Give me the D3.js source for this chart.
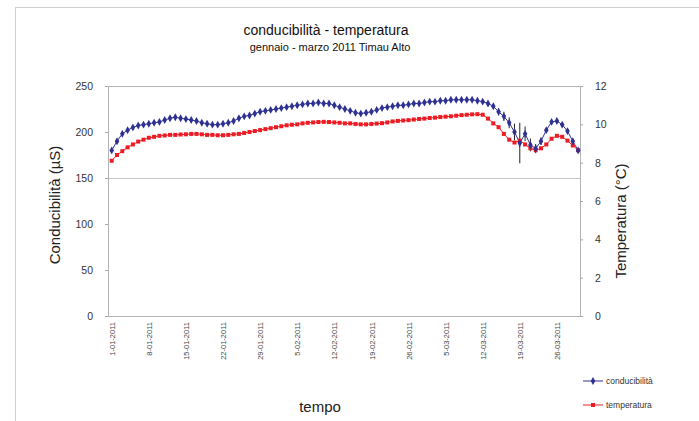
<!DOCTYPE html>
<html><head><meta charset="utf-8">
<script src="https://cdn.jsdelivr.net/npm/d3@7"></script>
<style>
html,body{margin:0;padding:0;background:#fff;}
svg{display:block;font-family:"Liberation Sans",Arial,sans-serif;}
</style></head>
<body><svg id="c" width="699" height="421"></svg>
<script>
// ---- data ----
const startDate = "2011-01-01";
const tickLabels = ["1-01-2011","8-01-2011","15-01-2011","22-01-2011","29-01-2011","5-02-2011","12-02-2011","19-02-2011","26-02-2011","5-03-2011","12-03-2011","19-03-2011","26-03-2011"];
const conducibilita = [180,190,198,202,205,207,208,209,210,211,213,215,216,215,214,213,212,210,209,208,208,209,210,212,215,217,218,220,222,223,224,225,226,227,228,229,230,231,231,232,231,231,229,227,225,223,221,220,221,222,224,226,227,228,229,229,230,231,231,232,233,233,234,234,235,235,235,235,235,234,233,231,228,222,217,210,200,188,198,186,182,190,202,211,212,208,201,190,180];
const conducibilitaErr = [0,0,0,0,0,0,0,0,0,0,0,0,0,0,0,0,0,0,0,0,0,0,0,0,0,0,0,0,0,0,0,0,0,0,0,0,0,0,0,0,0,0,0,0,0,0,0,0,0,0,0,0,0,0,0,0,0,0,0,0,0,0,0,0,0,0,0,0,0,0,0,0,0,4,5,6,9,22,8,7,5,4,0,0,0,0,0,0,0];
const temperatura = [8.1,8.4,8.6,8.8,8.95,9.1,9.2,9.3,9.35,9.4,9.42,9.45,9.45,9.47,9.48,9.5,9.5,9.48,9.45,9.45,9.43,9.43,9.45,9.48,9.5,9.55,9.6,9.65,9.7,9.75,9.8,9.85,9.9,9.95,9.98,10.0,10.05,10.08,10.1,10.12,10.13,10.12,10.1,10.08,10.05,10.05,10.02,10.0,10.0,10.02,10.04,10.06,10.1,10.15,10.18,10.2,10.22,10.25,10.28,10.3,10.33,10.35,10.38,10.4,10.42,10.45,10.48,10.5,10.52,10.53,10.5,10.3,10.05,9.85,9.5,9.2,9.05,9.15,8.95,8.75,8.65,8.75,8.95,9.25,9.4,9.35,9.15,8.9,8.65];
const leftTicks = [0,50,100,150,200,250];
const rightTicks = [0,2,4,6,8,10,12];
const seriesNames = ["conducibilità","temperatura"];
const colors = {cond:"#2e3192", temp:"#ed1c24"};

// ---- layout ----
const svg = d3.select("#c");
const L=108, R=580, T=86, B=316;
const day = 86400000;
const t0 = Date.parse(startDate+"T00:00:00Z");
const dates = conducibilita.map((_, i) => new Date(t0 + i*day));
const parseTick = d3.utcParse("%d-%m-%Y");
const tickDates = tickLabels.map(s => parseTick(s));

const x = d3.scaleUtc().domain([new Date(t0 - 0.7*day), new Date(t0 + 88.36*day)]).range([L, R]);
const yL = d3.scaleLinear().domain([0,250]).range([B, T]);
const yR = d3.scaleLinear().domain([0,12]).range([B, T]);

// outer frame
svg.append("rect").attr("x",15.5).attr("y",7.5).attr("width",690).attr("height",420)
  .attr("fill","#fff").attr("stroke","#cfcfcf");

// gridline at 150
svg.append("g").selectAll("line").data([150]).join("line")
  .attr("x1",L).attr("x2",R).attr("y1",d=>Math.round(yL(d))+0.5).attr("y2",d=>Math.round(yL(d))+0.5)
  .attr("stroke","#c4c4c4");

// plot frame
svg.append("rect").attr("x",L+0.5).attr("y",T+0.5).attr("width",R-L).attr("height",B-T)
  .attr("fill","none").attr("stroke","#b5b5b5");

// axes
const axL = svg.append("g").attr("transform",`translate(${L},0)`)
  .call(d3.axisLeft(yL).tickValues(leftTicks).tickSize(3).tickPadding(8));
const axR = svg.append("g").attr("transform",`translate(${R},0)`)
  .call(d3.axisRight(yR).tickValues(rightTicks).tickSize(3).tickPadding(12));
[axL,axR].forEach(a=>{
  a.select(".domain").remove();
  a.selectAll("line").attr("stroke","#aaa");
  a.selectAll("text").attr("font-size",10.5).attr("fill","#333").attr("font-family","Liberation Sans, Arial, sans-serif");
});
axL.selectAll("text").attr("dx",-4);

const fmt = d3.utcFormat("%-d-%m-%Y");
const axX = svg.append("g").attr("transform",`translate(0,${B})`)
  .call(d3.axisBottom(x).tickValues(tickDates).tickFormat(fmt).tickSize(0));
axX.select(".domain").remove();
axX.selectAll("text")
  .attr("font-size",7.5).attr("fill","#444").attr("font-family","Liberation Sans, Arial, sans-serif")
  .attr("transform","rotate(-90)").attr("text-anchor","end")
  .attr("x",-6).attr("y",0).attr("dy","0.35em");

// series
const condData = dates.map((d,i)=>({d, v:conducibilita[i], e:conducibilitaErr[i]}));
const tempData = dates.map((d,i)=>({d, v:temperatura[i]}));

svg.append("path").datum(tempData)
  .attr("d", d3.line().x(p=>x(p.d)).y(p=>yR(p.v)))
  .attr("fill","none").attr("stroke",colors.temp).attr("stroke-width",1);
svg.append("path").datum(condData)
  .attr("d", d3.line().x(p=>x(p.d)).y(p=>yL(p.v)))
  .attr("fill","none").attr("stroke",colors.cond).attr("stroke-width",1);

// error bars
svg.append("g").selectAll("line").data(condData.filter(p=>p.e>0)).join("line")
  .attr("x1",p=>x(p.d)).attr("x2",p=>x(p.d))
  .attr("y1",p=>yL(p.v+p.e)).attr("y2",p=>yL(p.v-p.e))
  .attr("stroke","#222").attr("stroke-width",1);

svg.append("g").selectAll("rect").data(tempData).join("rect")
  .attr("x",p=>x(p.d)-2).attr("y",p=>yR(p.v)-2).attr("width",4).attr("height",4)
  .attr("fill",colors.temp);
const diamond = d3.symbol().type(d3.symbolDiamond).size(18);
svg.append("g").selectAll("path").data(condData).join("path")
  .attr("d",diamond).attr("transform",p=>`translate(${x(p.d)},${yL(p.v)})`)
  .attr("fill",colors.cond);

// titles
svg.append("text").attr("x",326).attr("y",35).attr("text-anchor","middle")
  .attr("font-size",14).attr("fill","#111").text("conducibilità - temperatura");
svg.append("text").attr("x",330).attr("y",51).attr("text-anchor","middle")
  .attr("font-size",11).attr("fill","#111").text("gennaio - marzo 2011 Timau Alto");

svg.append("text").attr("transform",`translate(60,${(T+B)/2+4}) rotate(-90)`)
  .attr("text-anchor","middle").attr("font-size",15).attr("fill","#222").text("Conducibilità (µS)");
svg.append("text").attr("transform",`translate(626,${(T+B)/2+20}) rotate(-90)`)
  .attr("text-anchor","middle").attr("font-size",15).attr("fill","#222").text("Temperatura (°C)");
svg.append("text").attr("x",320).attr("y",412).attr("text-anchor","middle")
  .attr("font-size",15).attr("fill","#222").text("tempo");

// legend
const lg = svg.append("g");
const lgItems = [{n:seriesNames[0], c:colors.cond, y:381, sym:"d"},{n:seriesNames[1], c:colors.temp, y:405, sym:"s"}];
lgItems.forEach(it=>{
  lg.append("line").attr("x1",583).attr("x2",603).attr("y1",it.y).attr("y2",it.y).attr("stroke",it.c);
  if(it.sym==="d") lg.append("path").attr("d",diamond).attr("transform",`translate(593,${it.y})`).attr("fill",it.c);
  else lg.append("rect").attr("x",591).attr("y",it.y-2).attr("width",4).attr("height",4).attr("fill",it.c);
  lg.append("text").attr("x",606).attr("y",it.y+3).attr("font-size",8.5).attr("fill","#333").text(it.n);
});
</script></body></html>
